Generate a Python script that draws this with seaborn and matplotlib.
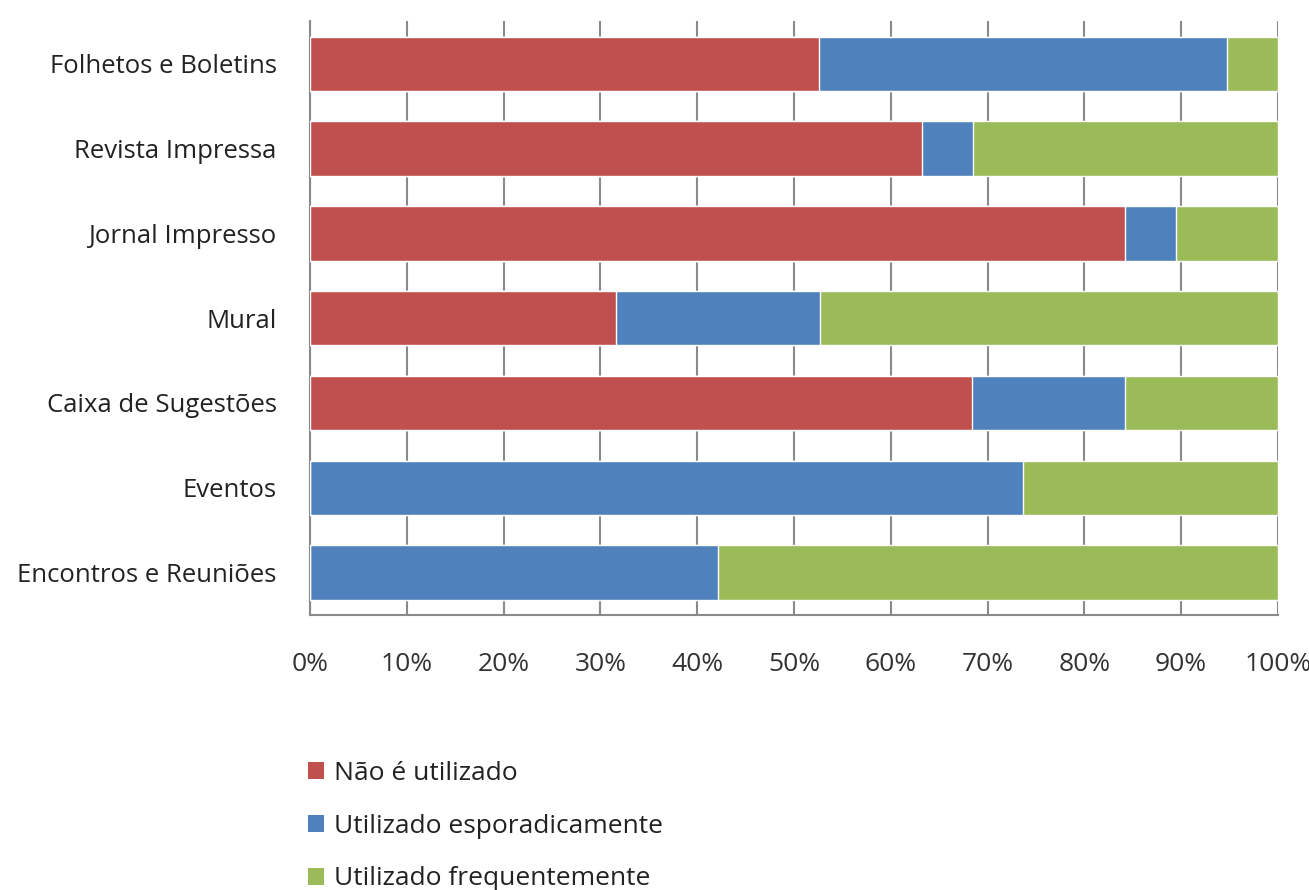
import numpy as np
import pandas as pd
import seaborn as sns
import matplotlib.pyplot as plt
from matplotlib.patches import Patch

categories = ['Folhetos e Boletins', 'Revista Impressa', 'Jornal Impresso', 'Mural',
              'Caixa de Sugestões', 'Eventos', 'Encontros e Reuniões']
nao_utilizado = [52.6, 63.2, 84.2, 31.6, 68.4, 0.0, 0.0]
esporadico = [42.1, 5.3, 5.3, 21.1, 15.8, 73.7, 42.1]
frequente = [5.3, 31.5, 10.5, 47.3, 15.8, 26.3, 57.9]
series_names = ['Não é utilizado', 'Utilizado esporadicamente', 'Utilizado frequentemente']
colors = ['#C0504D', '#4F81BD', '#9BBB59']
tick_vals = list(range(0, 101, 10))

df = pd.DataFrame({'cat': categories, 'nao': nao_utilizado, 'esp': esporadico, 'freq': frequente})
df['c1'] = df['nao']
df['c2'] = df['nao'] + df['esp']
df['c3'] = df['c2'] + df['freq']

sns.set_style('white')
plt.rcParams['font.family'] = ['Open Sans', 'DejaVu Sans']

fig = plt.figure(figsize=(13.09, 8.90), dpi=100)
ax = fig.add_axes([0.2368, 0.309, 0.7395, 0.667])

# stacked by layering cumulative totals
for col, c in zip(['c3', 'c2', 'c1'], colors[::-1]):
    sns.barplot(data=df, x=col, y='cat', orient='h', color=c, width=0.64,
                saturation=1, ax=ax, zorder=3)

ax.set_xlim(0, 100)
ax.set_xticks(tick_vals)
ax.set_xticklabels([f'{t}%' for t in tick_vals], fontsize=19, color='#333333')
ax.tick_params(axis='x', length=0, pad=27)
ax.tick_params(axis='y', length=0, pad=24, labelsize=18.5, labelcolor='#222222')
ax.set_xlabel('')
ax.set_ylabel('')
ax.xaxis.grid(True, color='#8a8a8a', linewidth=1.5, zorder=0)
ax.set_axisbelow(True)
for s in ['top', 'right']:
    ax.spines[s].set_visible(False)
for s in ['left', 'bottom']:
    ax.spines[s].set_color('#8a8a8a')
    ax.spines[s].set_linewidth(1.5)

handles = [Patch(facecolor=c, edgecolor='none') for c in colors]
fig.legend(handles, series_names, loc='upper left', bbox_to_anchor=(0.2353, 0.145),
           frameon=False, fontsize=19, handlelength=0.62, handleheight=0.62,
           handletextpad=0.35, labelspacing=1.05, borderpad=0, borderaxespad=0,
           labelcolor='#222222')

fig.savefig('out.png', dpi=100)
